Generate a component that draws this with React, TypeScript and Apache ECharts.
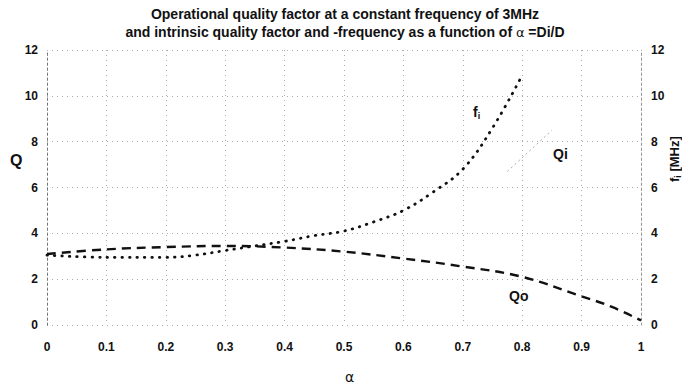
import React, { useEffect, useRef } from "react";
import * as echarts from "echarts";

const alphaTicks = [0, 0.1, 0.2, 0.3, 0.4, 0.5, 0.6, 0.7, 0.8, 0.9, 1];

const qoAlpha = [0, 0.1, 0.2, 0.3, 0.4, 0.5, 0.6, 0.7, 0.8, 0.9, 0.95, 1.0];
const qoValues = [3.1, 3.3, 3.4, 3.45, 3.38, 3.2, 2.9, 2.55, 2.1, 1.25, 0.8, 0.2];

const fiAlpha = [0, 0.1, 0.2, 0.25, 0.3, 0.35, 0.4, 0.45, 0.5, 0.55, 0.6, 0.65, 0.7, 0.75, 0.8];
const fiValues = [3.05, 2.95, 2.95, 3.05, 3.25, 3.45, 3.65, 3.9, 4.1, 4.5, 5.0, 5.8, 6.8, 8.6, 10.9];

const qiAlpha = [0.775, 0.85];
const qiValues = [6.7, 8.5];

const FONT = "'Liberation Sans Narrow', 'Arial Narrow', 'Liberation Sans', Arial, sans-serif";

export default function App() {
  const ref = useRef<HTMLDivElement>(null);
  useEffect(() => {
    document.body.style.margin = "0";
    const chart = echarts.init(ref.current!, null, { renderer: "svg" });
    const zip = (xs: number[], ys: number[]) => xs.map((x, i) => [x, ys[i]]);
    const axisLabel = { color: "#111", fontFamily: FONT, fontWeight: "bold", fontSize: 12 };
    const gridLine = { show: true, lineStyle: { color: "#aaa", type: [1, 4] as any, width: 1 } };
    chart.setOption({
      animation: false,
      backgroundColor: "#fff",
      title: {
        text: "Operational quality factor at a constant frequency of 3MHz\nand intrinsic quality factor and -frequency as a function of {a|α} =Di/D",
        left: 340,
        textAlign: "center",
        top: 0,
        textStyle: {
          fontFamily: FONT,
          fontWeight: "bold",
          fontSize: 14,
          lineHeight: 18,
          color: "#111",
          rich: { a: { fontFamily: "'DejaVu Sans', sans-serif", fontSize: 13, fontWeight: "normal", color: "#111" } },
        },
      },
      grid: { left: 47, right: 41, top: 50, bottom: 63 },
      xAxis: {
        type: "value",
        min: 0,
        max: 1,
        interval: 0.1,
        axisLine: { show: false },
        axisTick: { show: false },
        axisLabel: { ...axisLabel, margin: 16 },
        splitLine: gridLine,
      },
      yAxis: [
        {
          type: "value",
          min: 0,
          max: 12,
          interval: 2,
          axisLine: { show: true, lineStyle: { color: "#777", type: [2, 3] as any, width: 1 } },
          axisTick: { show: false },
          axisLabel: { ...axisLabel, margin: 9 },
          splitLine: gridLine,
        },
        {
          type: "value",
          min: 0,
          max: 12,
          interval: 2,
          position: "right",
          axisLine: { show: true, lineStyle: { color: "#999", type: [2, 3] as any, width: 1 } },
          axisTick: { show: false },
          axisLabel: { ...axisLabel, margin: 10 },
          splitLine: { show: false },
        },
      ],
      graphic: [
        { type: "text", left: 10, top: 152, style: { text: "Q", font: `bold 16px ${FONT}`, fill: "#111" } },
        {
          type: "text",
          x: 667,
          y: 182,
          rotation: Math.PI / 2,
          style: {
            text: "{f|f}{s|i}{f| [MHz]}",
            fill: "#111",
            rich: {
              f: { fontFamily: FONT, fontWeight: "bold", fontSize: 13, fill: "#111" },
              s: { fontFamily: FONT, fontWeight: "bold", fontSize: 9, fill: "#111", padding: [6, 0, 0, 0] },
            },
          },
        },
        { type: "text", left: 345, top: 370, style: { text: "α", font: `14px 'DejaVu Sans', sans-serif`, fill: "#111" } },
        {
          type: "text",
          left: 473,
          top: 105,
          style: {
            text: "{f|f}{s|i}",
            rich: {
              f: { fontFamily: FONT, fontWeight: "bold", fontSize: 14, fill: "#111" },
              s: { fontFamily: FONT, fontWeight: "bold", fontSize: 9, fill: "#111", padding: [8, 0, 0, 0] },
            },
          },
        },
        { type: "text", left: 553, top: 147, style: { text: "Qi", font: `bold 14px ${FONT}`, fill: "#111" } },
        { type: "text", left: 509, top: 289, style: { text: "Qo", font: `bold 14px ${FONT}`, fill: "#111" } },
      ],
      series: [
        {
          type: "line",
          name: "Qo",
          data: zip(qoAlpha, qoValues),
          smooth: 0.4,
          symbol: "none",
          lineStyle: { color: "#111", width: 2.4, type: [9, 6] as any },
        },
        {
          type: "line",
          name: "fi",
          data: zip(fiAlpha, fiValues),
          smooth: 0.4,
          symbol: "none",
          lineStyle: { color: "#111", width: 2.8, type: [0.5, 7] as any, cap: "round" },
        },
        {
          type: "line",
          name: "Qi",
          data: zip(qiAlpha, qiValues),
          symbol: "none",
          lineStyle: { color: "#aaa", width: 1, type: [2, 3] as any },
        },
      ],
    });
    return () => chart.dispose();
  }, []);
  return <div ref={ref} style={{ position: "absolute", left: 0, top: 0, width: 682, height: 388 }} />;
}
